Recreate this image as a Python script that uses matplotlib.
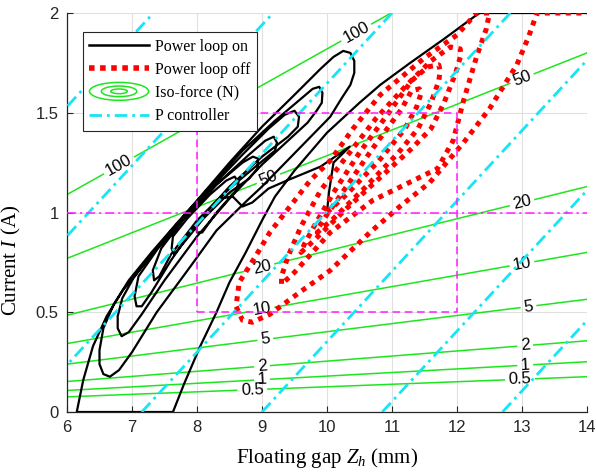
import numpy as np
import matplotlib
matplotlib.use('Agg')
import matplotlib.pyplot as plt
from matplotlib.legend_handler import HandlerBase
from matplotlib.patches import Ellipse
from matplotlib.lines import Line2D

# ---------------- data ----------------
# iso-force lines (N): current at Z=6 mm and Z=14 mm
iso_levels = ['0.5', '1', '2', '5', '10', '20', '50', '100']
iso_I_at_z6 = [0.076, 0.108, 0.153, 0.24, 0.343, 0.485, 0.77, 1.09]
iso_I_at_z14 = [0.177, 0.252, 0.357, 0.565, 0.80, 1.13, 1.80, 2.55]
iso_label_z_a = [8.85, 9.0, 9.0, 9.05, 9.0, 9.0, 9.1, 6.8]
iso_label_z_b = [12.97, 13.05, 13.05, 13.1, 13.0, 13.0, 13.0, 10.45]

# P controller lines: gap at I=0 and at I=2
p_z_at_I0 = [1.66, 3.5, 5.33, 7.15, 9.0, 10.85, 12.7]
p_z_at_I2 = [7.33, 9.17, 11.0, 12.82, 14.67, 16.52, 18.37]

# working window
rect_z = [8, 12]
rect_I = [0.5, 1.5]
ref_I = 1.0

# power loop on trajectory (gap mm, current A)
on_z = [14.0, 12.35, 12.3, 11.8, 11.28, 10.82, 10.5, 10.0, 9.5, 9.2, 9.0, 8.75, 8.5, 8.3, 8.05, 7.8, 7.63, 6.15,
        6.2, 6.25, 6.4, 6.61, 6.86, 7.23, 7.58, 8.0, 8.5, 9.0, 9.5, 9.9, 10.1, 10.25, 10.36, 10.42, 10.42,
        10.36, 10.22, 10.05, 9.54, 9.0, 8.77, 8.3, 7.9, 7.38, 7.0, 6.8, 6.66, 6.56, 6.5, 6.5,
        6.56, 6.72, 6.95, 7.3, 7.7, 8.2, 8.7, 9.2, 9.6, 9.78, 9.88, 9.93, 9.92,
        9.84, 9.7, 9.4, 9.0, 8.5, 8.0, 7.5, 7.15, 6.95, 6.84, 6.78, 6.78,
        6.85, 7.02, 7.35, 7.75, 8.2, 8.7, 9.1, 9.35, 9.5, 9.57, 9.55,
        9.4, 9.0, 8.5, 8.0, 7.6, 7.3, 7.15, 7.07, 7.04,
        7.1, 7.4, 7.8, 8.3, 8.8, 9.05, 9.18, 9.23, 9.2,
        8.9, 8.5, 8.0, 7.6, 7.42, 7.34, 7.32,
        7.45, 7.8, 8.3, 8.7, 8.86, 8.94, 8.93,
        8.8, 8.5, 8.1, 7.75, 7.65, 7.61, 7.63,
        7.85, 8.2, 8.45, 8.58, 8.64, 8.6,
        8.3, 8.08, 8.0, 7.99,
        8.1, 8.35, 8.55, 8.7, 8.85, 9.1, 9.38, 9.9, 10.35, 10.1, 10.03, 10.0]
on_I = [2.0, 2.0, 1.99, 1.87, 1.75, 1.64, 1.55, 1.4, 1.21, 1.08, 0.96, 0.8, 0.65, 0.5, 0.33, 0.14, 0.0, 0.0,
        0.08, 0.16, 0.33, 0.48, 0.61, 0.76, 0.9, 1.06, 1.25, 1.43, 1.59, 1.72, 1.78, 1.81, 1.8, 1.76, 1.7,
        1.64, 1.57, 1.48, 1.31, 1.13, 1.06, 0.91, 0.73, 0.5, 0.3, 0.21, 0.177, 0.19, 0.24, 0.31,
        0.42, 0.54, 0.66, 0.8, 0.95, 1.13, 1.31, 1.46, 1.57, 1.62, 1.63, 1.6, 1.55,
        1.51, 1.45, 1.36, 1.24, 1.07, 0.88, 0.66, 0.49, 0.4, 0.38, 0.42, 0.48,
        0.57, 0.67, 0.81, 0.96, 1.12, 1.29, 1.42, 1.49, 1.51, 1.48, 1.43,
        1.38, 1.28, 1.13, 0.95, 0.76, 0.6, 0.53, 0.53, 0.58,
        0.68, 0.82, 0.97, 1.14, 1.29, 1.36, 1.38, 1.35, 1.31,
        1.23, 1.12, 0.96, 0.79, 0.68, 0.66, 0.71,
        0.82, 0.97, 1.14, 1.25, 1.28, 1.27, 1.22,
        1.17, 1.1, 0.97, 0.83, 0.79, 0.82, 0.88,
        0.97, 1.09, 1.16, 1.18, 1.15, 1.11,
        1.0, 0.9, 0.9, 0.94,
        0.99, 1.07, 1.08, 1.03, 1.05, 1.12, 1.16, 1.23, 1.33, 1.25, 1.1, 1.0]

# power loop off trajectory (diverging spiral)
off_z = [10.0, 10.3, 10.8, 11.2, 11.38, 11.45, 11.42,
         11.3, 11.15, 10.7, 10.3, 10.0, 9.88, 9.85,
         10.1, 10.6, 11.1, 11.4, 11.6, 11.72, 11.74, 11.72,
         11.55, 11.3, 10.95, 10.5, 10.1, 9.8, 9.65, 9.6,
         9.8, 10.3, 10.8, 11.3, 11.6, 11.8, 11.98, 12.06, 12.05,
         11.9, 11.6, 11.2, 10.75, 10.3, 9.9, 9.6, 9.4, 9.3, 9.3,
         9.5, 10.05, 10.7, 11.2, 11.7, 11.94, 12.1, 12.3, 12.45, 12.5, 12.3,
         12.0, 11.48, 10.82, 10.4, 10.05, 9.74, 9.43, 9.12, 8.9, 8.65, 8.6, 8.7,
         8.85, 9.12, 9.58, 10.05, 10.66, 11.12, 11.58, 12.1, 12.5, 12.92, 13.1, 13.23, 14.0]
off_I = [1.0, 1.09, 1.26, 1.42, 1.53, 1.6, 1.62,
         1.61, 1.52, 1.32, 1.13, 0.99, 0.93, 0.9,
         0.97, 1.13, 1.3, 1.42, 1.55, 1.66, 1.71, 1.74,
         1.73, 1.66, 1.5, 1.3, 1.1, 0.93, 0.84, 0.8,
         0.86, 1.02, 1.17, 1.32, 1.42, 1.55, 1.7, 1.79, 1.82,
         1.83, 1.76, 1.63, 1.47, 1.28, 1.11, 0.93, 0.78, 0.68, 0.64,
         0.7, 0.9, 1.06, 1.14, 1.22, 1.36, 1.56, 1.78, 1.92, 2.0, 2.0,
         1.89, 1.77, 1.59, 1.42, 1.26, 1.16, 1.03, 0.9, 0.78, 0.65, 0.53, 0.46,
         0.45, 0.49, 0.6, 0.71, 0.9, 1.03, 1.15, 1.35, 1.52, 1.74, 1.88, 2.0, 2.0]

# ---------------- style ----------------
SERIF = 'Liberation Serif'
SANS = 'Liberation Sans'
plt.rcParams['font.family'] = SANS
plt.rcParams['mathtext.fontset'] = 'custom'
plt.rcParams['mathtext.rm'] = SERIF
plt.rcParams['mathtext.it'] = SERIF + ':italic'

GREEN = '#1ee61e'
CYAN = '#17e4f4'
MAGENTA = '#ff1eff'
RED = '#ff0000'

fig = plt.figure(figsize=(5.96, 4.75), dpi=100)
ax = fig.add_axes([0.1124, 0.1326, 0.8725, 0.84])
ax.set_xlim(6, 14)
ax.set_ylim(0, 2)

# iso-force lines with inline labels
LBL_FS = 12
em_px = LBL_FS * 100 / 72.0
for lab, i6, i14, za, zb in zip(iso_levels, iso_I_at_z6, iso_I_at_z14, iso_label_z_a, iso_label_z_b):
    p0 = np.array([6.0, i6]); p1 = np.array([14.0, i14])
    d0 = ax.transData.transform(p0); d1 = ax.transData.transform(p1)
    v = d1 - d0
    L = np.hypot(*v)
    ang = np.degrees(np.arctan2(v[1], v[0]))
    tw = sum(0.278 if c == '.' else 0.556 for c in lab) * em_px
    hw = tw / 2 + 4
    cuts = []
    for zl in (za, zb):
        t = (zl - 6.0) / 8.0
        cuts.append((t - hw / L, t + hw / L))
        pt = p0 + t * (p1 - p0)
        ax.text(pt[0], pt[1], lab, rotation=ang, rotation_mode='anchor', ha='center', va='center',
                fontsize=LBL_FS, family=SANS, color='black', zorder=3, clip_on=True)
    cuts.sort()
    starts = [0.0] + [c[1] for c in cuts]
    ends = [c[0] for c in cuts] + [1.0]
    for s, e in zip(starts, ends):
        if e > s:
            a = p0 + s * (p1 - p0); b = p0 + e * (p1 - p0)
            ax.plot([a[0], b[0]], [a[1], b[1]], color=GREEN, lw=1.1, zorder=2)

# power loops
ax.plot(on_z, on_I, color='black', lw=1.6, zorder=4, solid_joinstyle='round')
ax.plot(off_z, off_I, color=RED, lw=3.6, linestyle=(0, (1, 1.1)), dash_capstyle='butt', zorder=5)

# P controller lines
for za, zb in zip(p_z_at_I0, p_z_at_I2):
    ax.plot([za, zb], [0, 2], color=CYAN, lw=2.0, linestyle=(0, (4.5, 1.8, 1, 1.8)), zorder=6)

# working window and reference
ax.plot([rect_z[0], rect_z[1], rect_z[1], rect_z[0], rect_z[0]],
        [rect_I[0], rect_I[0], rect_I[1], rect_I[1], rect_I[0]],
        color=MAGENTA, lw=1.1, linestyle=(0, (5, 3)), zorder=7)
ax.axhline(ref_I, color=MAGENTA, lw=1.1, linestyle=(0, (6, 2.5, 1.5, 2.5)), zorder=7)

# axes styling
ax.set_xticks(np.arange(6, 15, 1))
ax.set_yticks([0, 0.5, 1, 1.5, 2])
ax.set_yticklabels(['0', '0.5', '1', '1.5', '2'])
ax.grid(True, color='#e0e0e0', lw=0.8, zorder=0)
ax.set_axisbelow(True)
for s in ['top', 'right']:
    ax.spines[s].set_visible(False)
for s in ['left', 'bottom']:
    ax.spines[s].set_color('#262626')
    ax.spines[s].set_linewidth(0.9)
ax.tick_params(direction='in', length=4, width=0.8, labelsize=12, colors='#262626', pad=6)
ax.set_xlabel('Floating gap $Z_h$ (mm)', fontsize=15, family=SERIF, labelpad=8)
ax.set_ylabel('Current $I$ (A)', fontsize=15, family=SERIF)
ax.yaxis.set_label_coords(-0.085, 0.38)


class HandlerEllipses(HandlerBase):
    def create_artists(self, legend, orig_handle, xdescent, ydescent, width, height, fontsize, trans):
        cx = width / 2 - xdescent
        cy = height / 2 - ydescent
        arts = []
        for fw, fh in [(1.0, 1.6), (0.6, 0.95), (0.28, 0.42)]:
            e = Ellipse((cx, cy), width * fw, height * fh, fill=False,
                        edgecolor=orig_handle.get_color(), lw=1.1, transform=trans)
            arts.append(e)
        return arts


h_on = Line2D([], [], color='black', lw=1.8)
h_off = Line2D([], [], color=RED, lw=4.0, linestyle=(0, (1, 1)), dash_capstyle='butt')
h_iso = Line2D([], [], color=GREEN, lw=1.1)
h_p = Line2D([], [], color=CYAN, lw=2.0, linestyle=(0, (4.5, 1.8, 1, 1.8)))
leg = ax.legend([h_on, h_off, h_iso, h_p], ['Power loop on', 'Power loop off', 'Iso-force (N)', 'P controller'],
                handler_map={h_iso: HandlerEllipses()}, loc='upper left', bbox_to_anchor=(0.031, 0.952),
                borderaxespad=0, prop={'family': SERIF, 'size': 11.5}, handlelength=3.7,
                labelspacing=0.45, handletextpad=0.4, borderpad=0.4, fancybox=False, framealpha=1,
                edgecolor='#262626')
leg.get_frame().set_linewidth(0.8)
leg.set_zorder(10)

fig.savefig('out.png', dpi=100)
